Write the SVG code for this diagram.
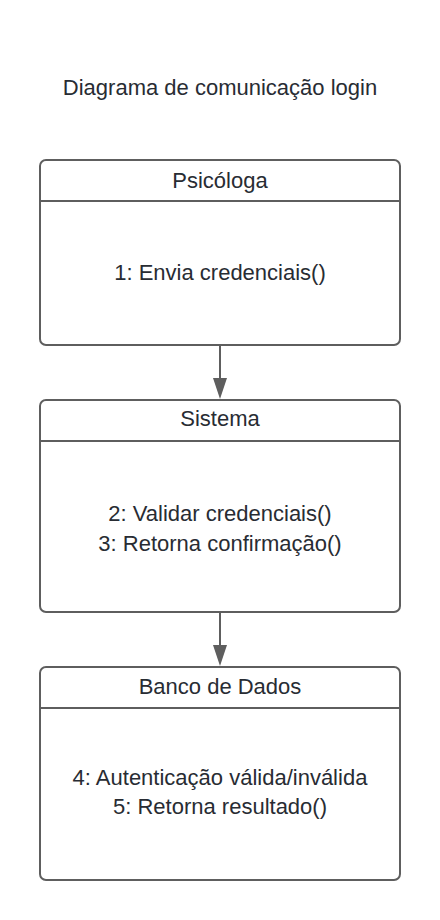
<svg xmlns="http://www.w3.org/2000/svg" width="440" height="920" viewBox="0 0 440 920">
<defs>
<style>
.box{fill:#ffffff;stroke:#5e5e5e;stroke-width:2}
.div{stroke:#5e5e5e;stroke-width:2}
.t{font-family:"Liberation Sans",Arial,sans-serif;font-size:22px;fill:#282c33;text-anchor:middle}
.c{stroke:#5e5e5e;stroke-width:2;fill:none}
.ah{fill:#5e5e5e}
</style>
</defs>
<rect width="440" height="920" fill="#ffffff"/>
<text class="t" x="220" y="95">Diagrama de comunicação login</text>
<g id="psicologa">
<rect class="box" x="40" y="160" width="360" height="185" rx="6"/>
<line class="div" x1="40" y1="201" x2="400" y2="201"/>
<text class="t" x="220" y="188">Psicóloga</text>
<text class="t" x="220" y="280">1: Envia credenciais()</text>
</g>
<g id="sistema">
<rect class="box" x="40" y="400" width="360" height="212" rx="6"/>
<line class="div" x1="40" y1="441" x2="400" y2="441"/>
<text class="t" x="220" y="426">Sistema</text>
<text class="t" x="220" y="521">2: Validar credenciais()</text>
<text class="t" x="220" y="551">3: Retorna confirmação()</text>
</g>
<g id="banco">
<rect class="box" x="40" y="667" width="360" height="213" rx="6"/>
<line class="div" x1="40" y1="708" x2="400" y2="708"/>
<text class="t" x="220" y="694">Banco de Dados</text>
<text class="t" x="220" y="785">4: Autenticação válida/inválida</text>
<text class="t" x="220" y="814">5: Retorna resultado()</text>
</g>
<g id="connectors">
<line class="c" x1="220" y1="345" x2="220" y2="380"/>
<path class="ah" d="M213,378 L227,378 L220,399 Z"/>
<line class="c" x1="220" y1="612" x2="220" y2="647"/>
<path class="ah" d="M213,645 L227,645 L220,666 Z"/>
</g>
</svg>
